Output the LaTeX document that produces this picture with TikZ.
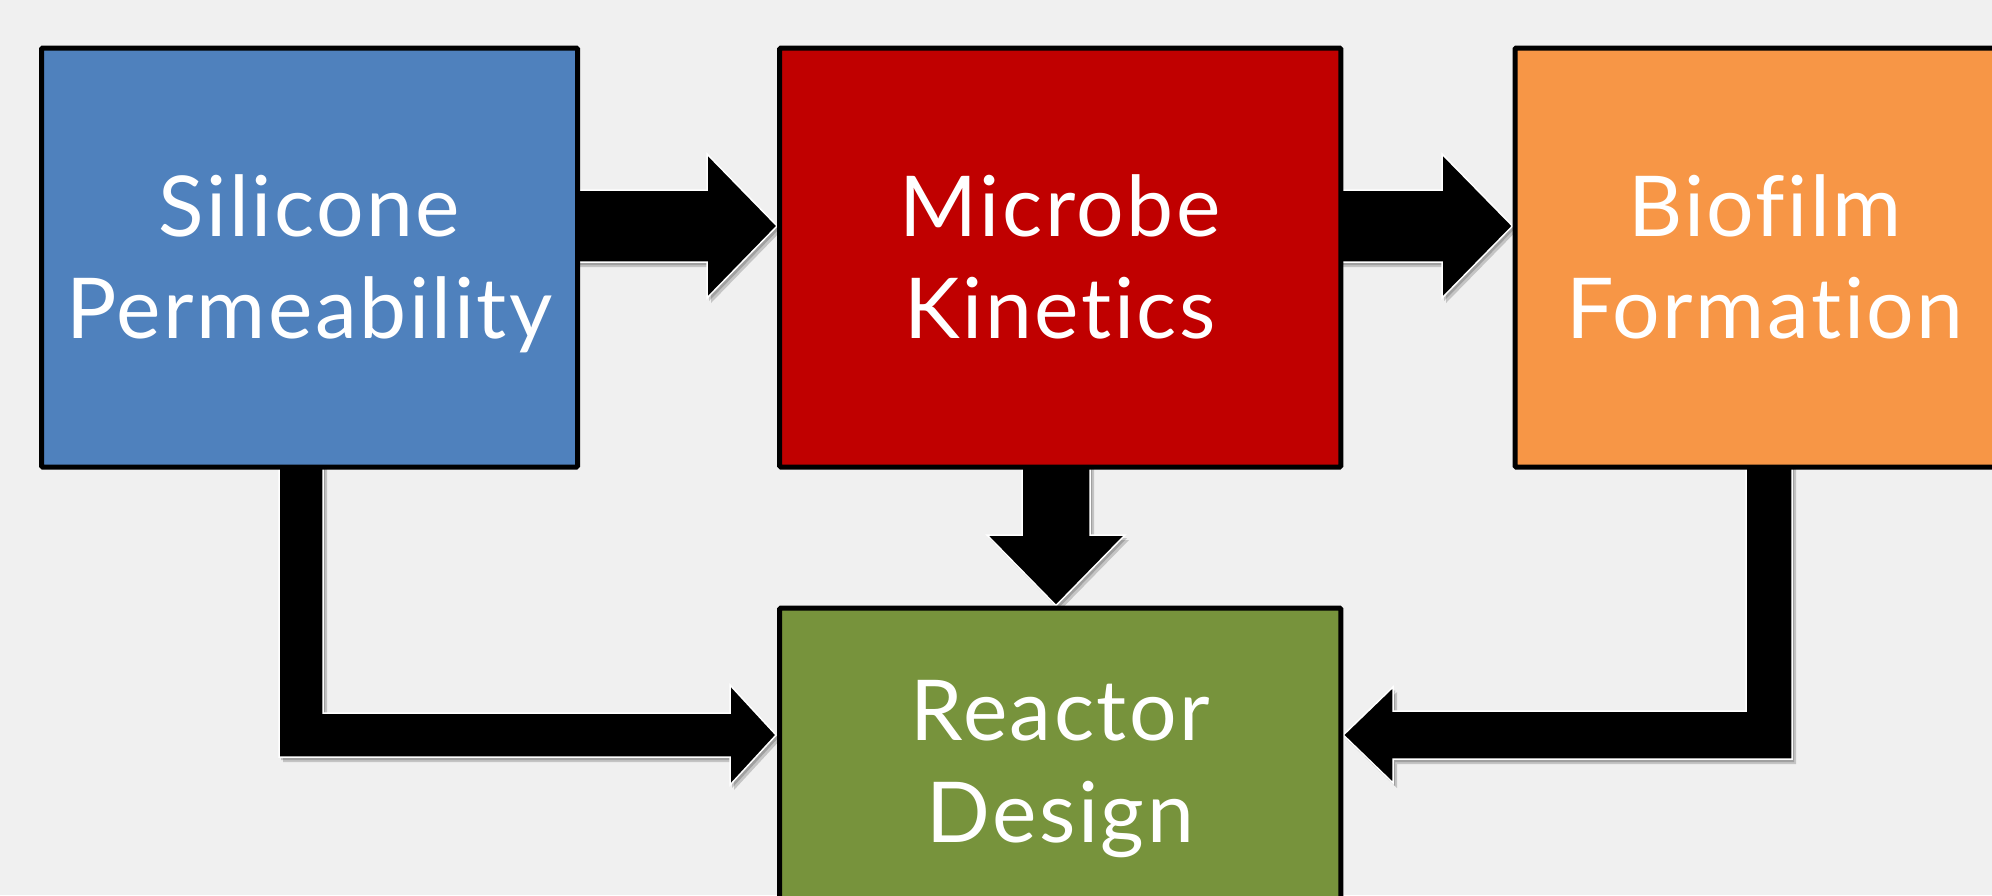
\documentclass[tikz,border=0pt]{standalone}
\usepackage{fontspec}
\setmainfont{Lato}[Ligatures={NoCommon,NoDiscretionary,NoRare}, LetterSpace=3]
\usetikzlibrary{calc}
\pgfdeclarelayer{background}
\pgfdeclarelayer{arrows}
\pgfsetlayers{background,arrows,main}
\definecolor{bgc}{HTML}{F0F0F0}
\definecolor{boxblue}{HTML}{4F81BD}
\definecolor{boxred}{HTML}{C00000}
\definecolor{boxorange}{HTML}{F79646}
\definecolor{boxgreen}{HTML}{77933C}
\newcommand\twolines[2]{\rule{0pt}{45pt}#1\\#2\rule[-15pt]{0pt}{0pt}}
\begin{document}
\begin{tikzpicture}[x=0.5pt,y=-0.5pt,
  box/.style={draw=black, line width=2.5pt, rounded corners=0.6pt, inner sep=0pt,
    align=center, text=white, font=\fontsize{42}{51}\selectfont},
  blockarrow/.style={fill=black, draw=white, line width=0.75pt, line join=miter,
    preaction={fill=black, opacity=0.18, draw=none, transform canvas={xshift=2pt,yshift=-2.5pt}},
    preaction={fill=black, opacity=0.18, draw=none, transform canvas={xshift=1pt,yshift=-1.5pt}}}
]
\useasboundingbox (0,0) rectangle (1992,895);
\begin{pgfonlayer}{background}
  \fill[bgc] (0,0) rectangle (1992,895);
\end{pgfonlayer}

\node[box, fill=boxblue, minimum width=268pt, minimum height=209.5pt] (s) at (309.5,257.5)
  {\twolines{Silicone}{Permeability}};
\node[box, fill=boxred, minimum width=280.6pt, minimum height=209.5pt] (m) at (1060.2,257.5)
  {\twolines{Microbe}{Kinetics}};
\node[box, fill=boxorange, minimum width=250pt, minimum height=209.5pt] (b) at (1765,257.5)
  {\twolines{Biofilm}{Formation}};
\node[box, fill=boxgreen, minimum width=280.6pt, minimum height=153pt] (r) at (1060.2,761)
  {\twolines{Reactor}{Design}};

\begin{pgfonlayer}{arrows}
  % Silicone -> Microbe
  \draw[blockarrow] ($(s.east |- 0,190)+(-6,0)$) -- (707,190) -- (707,154)
    -- (m.west |- 0,226) -- (707,298) -- (707,262) -- ($(s.east |- 0,262)+(-6,0)$) -- cycle;
  % Microbe -> Biofilm
  \draw[blockarrow] ($(m.east |- 0,190)+(-6,0)$) -- (1442,190) -- (1442,154)
    -- (b.west |- 0,226) -- (1442,298) -- (1442,262) -- ($(m.east |- 0,262)+(-6,0)$) -- cycle;
  % Microbe -> Reactor
  \draw[blockarrow] ($(m.south -| 1022,0)+(0,-6)$) -- (1022,535) -- (987,535)
    -- (r.north -| 1056,0) -- (1125,535) -- (1090,535) -- ($(m.south -| 1090,0)+(0,-6)$) -- cycle;
  % Silicone -> Reactor (elbow)
  \draw[blockarrow] ($(s.south -| 279,0)+(0,-6)$) -- ($(s.south -| 323,0)+(0,-6)$)
    -- (323,713) -- (730,713) -- (730,685) -- ($(r.west |- 0,735)+(-1,0)$)
    -- (730,785) -- (730,757) -- (279,757) -- cycle;
  % Biofilm -> Reactor (elbow)
  \draw[blockarrow] ($(b.south -| 1792,0)+(0,-6)$) -- (1792,759) -- (1393,759)
    -- (1393,783) -- (r.east |- 0,735) -- (1393,687) -- (1393,711) -- (1746,711)
    -- ($(b.south -| 1746,0)+(0,-6)$) -- cycle;
\end{pgfonlayer}
\end{tikzpicture}
\end{document}
